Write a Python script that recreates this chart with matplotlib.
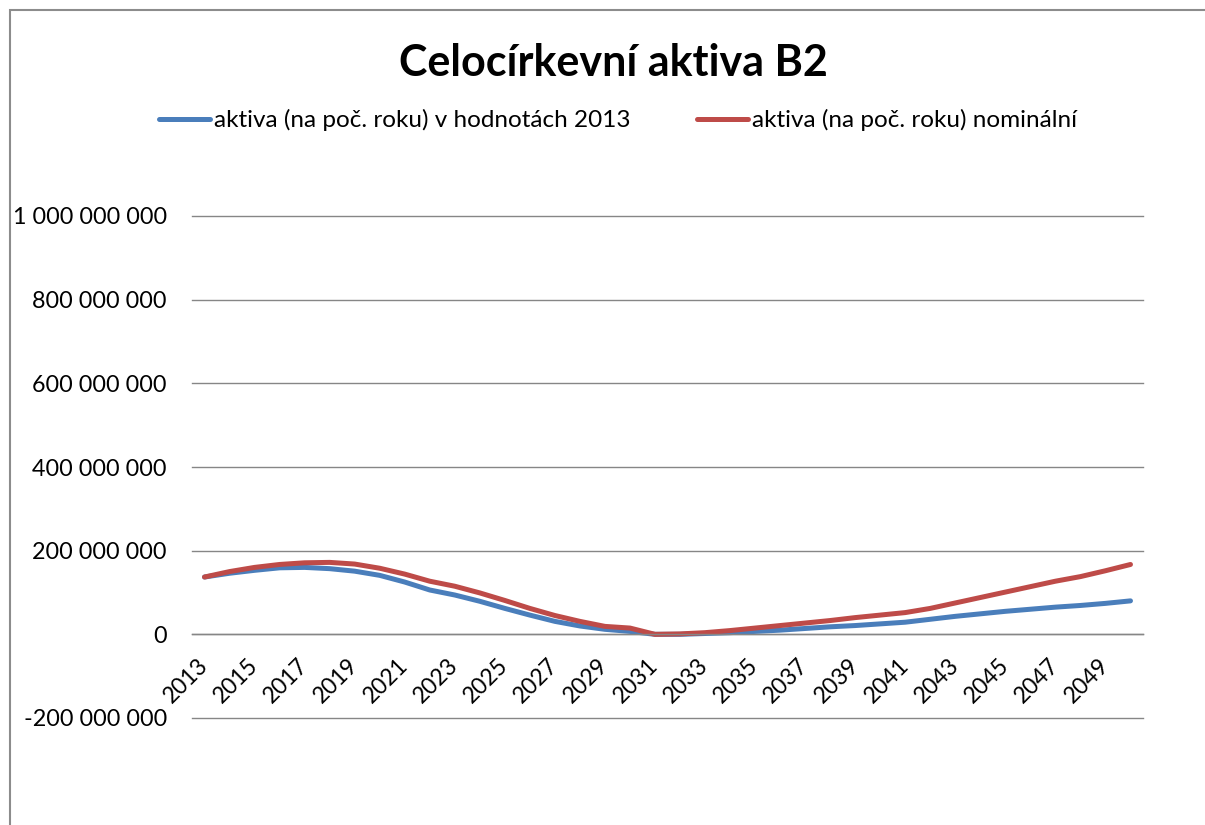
import matplotlib.pyplot as plt
from matplotlib.patches import Rectangle
from matplotlib.ticker import FuncFormatter

# --------------------------------------------------
# 1. Data (values in millions CZK)
# --------------------------------------------------
years = list(range(2013, 2051))

real_2013 = [137, 146, 153, 159, 160, 157, 151, 141, 125, 106,
             94, 79, 62, 46, 31, 20, 12, 7, 0, 0,
             2, 4, 7, 10, 14, 18, 21, 25, 29, 36,
             43, 49, 55, 60, 65, 69, 74, 80]

nominal = [137, 150, 160, 167, 171, 172, 168, 158, 144, 127,
           115, 99, 81, 62, 45, 31, 19, 15, 0, 1,
           4, 9, 15, 21, 27, 33, 40, 46, 52, 62,
           75, 88, 101, 114, 127, 138, 152, 167]

label_real = "aktiva (na poč. roku) v hodnotách 2013"
label_nominal = "aktiva (na poč. roku) nominální"
title = "Celocírkevní aktiva B2"

plt.rcParams["font.family"] = ["Lato", "DejaVu Sans"]

# --------------------------------------------------
# 2. Figure and axes
# --------------------------------------------------
W, H = 1205, 825
fig = plt.figure(figsize=(W / 100, H / 100), dpi=100)
ax = fig.add_axes([192 / W, 1 - 718 / H, (1143 - 192) / W, (718 - 216) / H])

x = list(range(len(years)))
ax.plot(x, [v * 1e6 for v in real_2013], color="#4A7EBB", lw=3.6,
        solid_capstyle="round", solid_joinstyle="round", label=label_real)
ax.plot(x, [v * 1e6 for v in nominal], color="#BE4B48", lw=3.6,
        solid_capstyle="round", solid_joinstyle="round", label=label_nominal)

ax.set_xlim(-0.5, len(years) - 0.5)
ax.set_ylim(-200e6, 1000e6)
ax.set_yticks([-200e6, 0, 200e6, 400e6, 600e6, 800e6, 1000e6])
ax.yaxis.set_major_formatter(
    FuncFormatter(lambda v, p: f"{v:,.0f}".replace(",", " "))
)
ax.grid(axis="y", color="#868686", lw=1.0)
ax.set_axisbelow(True)
for line in ax.get_ygridlines():
    line.set_clip_on(False)

for side in ["top", "right", "left"]:
    ax.spines[side].set_visible(False)
ax.spines["bottom"].set_position(("data", 0))
ax.spines["bottom"].set_color("#868686")
ax.spines["bottom"].set_linewidth(1.0)

ax.set_xticks(x[::2])
ax.set_xticklabels([str(y) for y in years[::2]], rotation=45,
                   ha="right", va="center", rotation_mode="anchor")
ax.tick_params(axis="x", length=0, pad=20, labelsize=16.5)
ax.tick_params(axis="y", length=0, pad=18, labelsize=16.8)

# --------------------------------------------------
# 3. Title, legend, chart border
# --------------------------------------------------
fig.text(613 / W, 1 - 63 / H, title, ha="center", va="center",
         fontsize=31, fontweight="bold")

fig.legend(loc="center", bbox_to_anchor=(618 / W, 1 - 120 / H), ncol=2,
           frameon=False, fontsize=17.5, handlelength=2.1,
           handletextpad=0.2, columnspacing=2.7)

fig.add_artist(Rectangle((10 / W, -0.1), 2, 1.1 - 10 / H,
                         transform=fig.transFigure, fill=False,
                         edgecolor="#8C8C8C", lw=1.5))

plt.savefig("out.png", dpi=100)
plt.close()
